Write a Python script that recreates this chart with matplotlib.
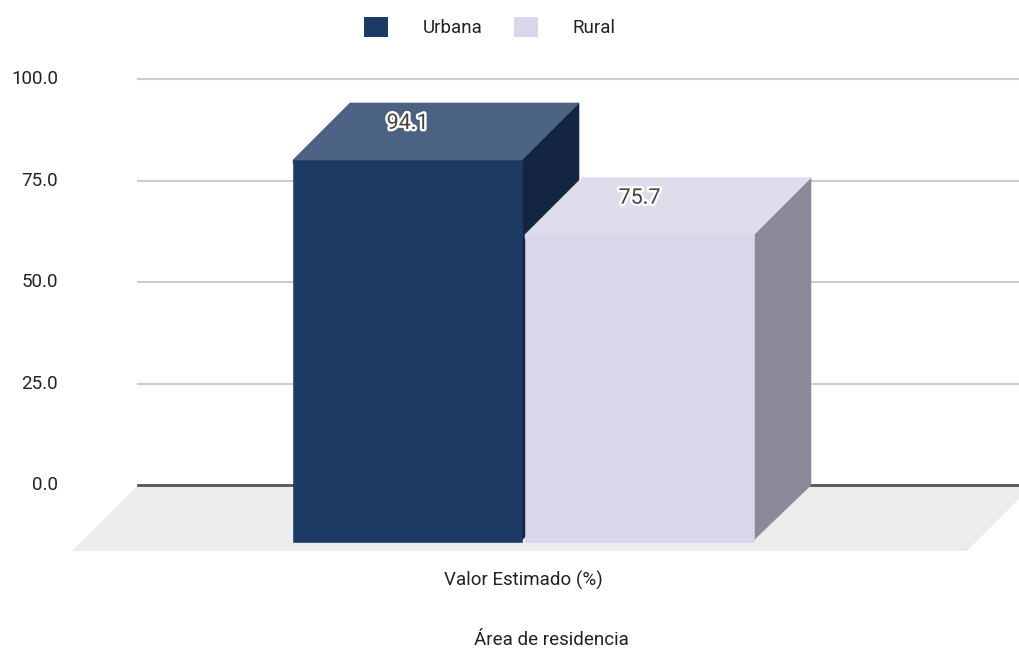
import matplotlib.pyplot as plt
from matplotlib.patches import Polygon, Patch
import matplotlib.patheffects as pe

plt.rcParams['font.family'] = ['Roboto', 'DejaVu Sans']

# data
series = ['Urbana', 'Rural']
values = [94.1, 75.7]
category = 'Valor Estimado (%)'
yticks = [0, 25, 50, 75, 100]

front_colors = ['#1c3a63', '#d9d5ea']
top_colors = ['#4b6282', '#dfdcec']
side_colors = ['#132540', '#8b8997']

W, H = 1020, 652
fig = plt.figure(figsize=(W / 100, H / 100), dpi=100)
ax = fig.add_axes([0, 0, 1, 1])
ax.axis('off')

# scale: pixels per data unit, and where the origin sits
sx, sy = 230.0, 4.06
x0_px, y0_px = 523, 485
ax.set_xlim(-x0_px / sx, (W - x0_px) / sx)
ax.set_ylim(-(H - y0_px) / sy, y0_px / sy)

# 3d depth of the bars and of the floor
dx, dy = 57 / sx, 57 / sy
fdx, fdy = 66 / sx, 66 / sy
back_left = -385 / sx
back_right = 510 / sx

# floor
floor = Polygon([(back_left - fdx, -fdy), (back_right - fdx, -fdy), (back_right, 0), (back_left, 0)],
                closed=True, facecolor='#ececec', edgecolor='none', zorder=1)
ax.add_patch(floor)

# gridlines and tick labels
for t in yticks:
    if t == 0:
        ax.plot([back_left, back_right], [t, t], color='#555555', lw=2, zorder=2)
    else:
        ax.plot([back_left, back_right], [t, t], color='#cccccc', lw=1.5, zorder=2)
    ax.text(-465 / sx, t, f'{t:.1f}', ha='right', va='center', fontsize=13.5, color='#222222')

# bars, drawn left to right so the next bar covers the previous side face
for i, (name, v) in enumerate(zip(series, values)):
    xl = -1.0 + i * (1.0 + 2 / sx)
    xr = xl + 1.0 - 1 / sx
    z = 3 + i
    ov = 1.0  # top/side faces tuck under the front face to hide seams
    faces = [
        ([(xr - 0.01, v - dy), (xr + dx, v), (xr + dx, 0), (xr - 0.01, -dy)], side_colors[i]),
        ([(xl, v - dy - ov), (xr, v - dy - ov), (xr, v - dy), (xr + dx, v), (xl + dx, v), (xl, v - dy)],
         top_colors[i]),
        ([(xl, -dy), (xr, -dy), (xr, v - dy), (xl, v - dy)], front_colors[i]),
    ]
    for pts, c in faces:
        ax.add_patch(Polygon(pts, closed=True, facecolor=c, edgecolor=c, lw=0.4, zorder=z))
    ax.text((xl + xr) / 2, v - dy + 0.64 * dy, f'{v:.1f}', ha='center', va='center',
            fontsize=15.5, color='#444444', zorder=10,
            path_effects=[pe.withStroke(linewidth=3.5, foreground='white')])

# category label and axis title
ax.text(0, -(580 - y0_px) / sy, category, ha='center', va='center', fontsize=13.5, color='#222222')
fig.text(551 / W, 1 - 640 / H, 'Área de residencia', ha='center', va='center',
         fontsize=13.5, color='#222222')

# legend
handles = [Patch(facecolor=c, edgecolor='none') for c in front_colors]
fig.legend(handles, series, loc='center', bbox_to_anchor=(490 / W, 1 - 27 / H), ncol=2,
           frameon=False, fontsize=13.5, handlelength=1.28, handleheight=1.28,
           handletextpad=1.85, columnspacing=1.65, borderpad=0, labelcolor='#222222')

fig.savefig('out.png', dpi=100, facecolor='white')
